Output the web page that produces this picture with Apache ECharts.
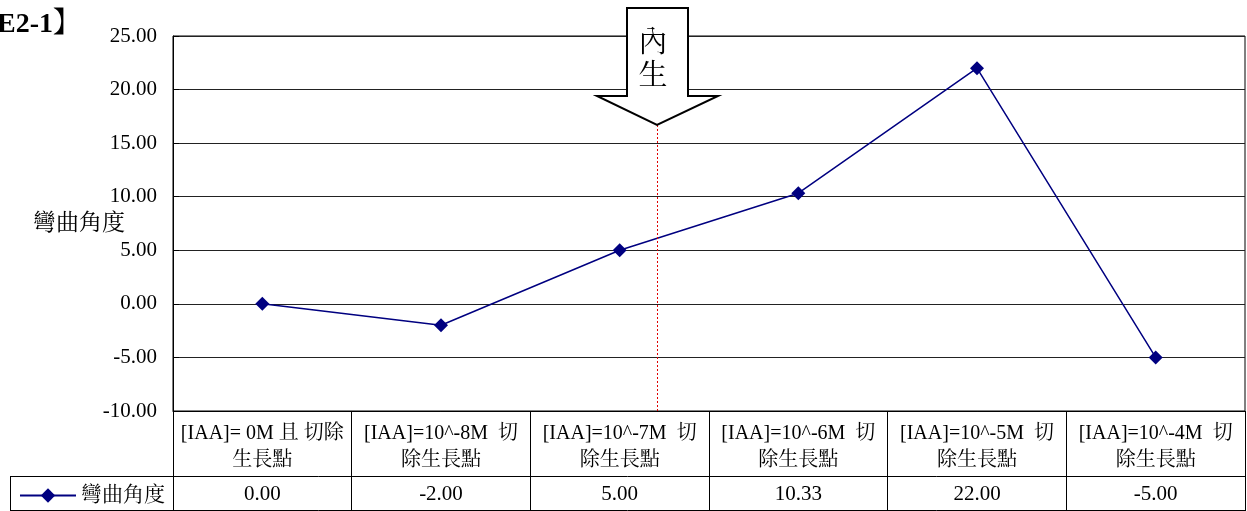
<!doctype html>
<html lang="zh-Hant">
<head>
<meta charset="UTF-8">
<title>彎曲角度</title>
<script src="https://cdn.jsdelivr.net/npm/echarts@6/dist/echarts.min.js"></script>
<style>
  html, body { margin: 0; padding: 0; background: #fff; }
  #main { width: 1247px; height: 511px; }
</style>
</head>
<body>
<div id="main"></div>
<script>
var seriesName = '彎曲角度';
var categories = [
    '[IAA]= 0M 且 切除\n生長點',
    '[IAA]=10^-8M  切\n除生長點',
    '[IAA]=10^-7M  切\n除生長點',
    '[IAA]=10^-6M  切\n除生長點',
    '[IAA]=10^-5M  切\n除生長點',
    '[IAA]=10^-4M  切\n除生長點'
];
var values = [0.00, -2.00, 5.00, 10.33, 22.00, -5.00];
var tableValues = ['0.00', '-2.00', '5.00', '10.33', '22.00', '-5.00'];

var FONT = "'Liberation Serif', 'Noto Serif CJK TC', 'Noto Sans CJK TC', serif";

var myChart = echarts.init(document.getElementById('main'));

var option = {
    backgroundColor: '#fff',
    animation: false,
    textStyle: { fontFamily: FONT },
    grid: {
        left: 173, right: 2, top: 36, bottom: 100,
        show: true, borderColor: '#000', borderWidth: 1
    },
    legend: {
        left: 14, top: 480,
        itemWidth: 56, itemHeight: 18, itemGap: 4,
        textStyle: { fontFamily: FONT, fontSize: 21, color: '#000' },
        data: [seriesName]
    },
    xAxis: [{
        type: 'category',
        data: categories,
        position: 'bottom',
        axisLine: { onZero: false, lineStyle: { color: '#000' } },
        axisTick: { show: true, length: 100, lineStyle: { color: '#000' } },
        axisLabel: {
            interval: 0, margin: 9, lineHeight: 27,
            fontFamily: FONT, fontSize: 20, color: '#000'
        }
    }, {
        type: 'category',
        data: tableValues,
        position: 'bottom',
        offset: 65,
        axisLine: { show: false, onZero: false },
        axisTick: { show: false },
        axisLabel: {
            interval: 0, margin: 8,
            fontFamily: FONT, fontSize: 21, color: '#000'
        }
    }],
    yAxis: {
        type: 'value',
        min: -10, max: 25, interval: 5,
        name: seriesName,
        nameLocation: 'middle',
        nameRotate: 0,
        nameGap: 48,
        nameMoveOverlap: false,
        nameTextStyle: { fontFamily: FONT, fontSize: 23, color: '#000' },
        axisLine: { show: true, lineStyle: { color: '#000' } },
        axisTick: { show: true, inside: true, length: 6, lineStyle: { color: '#000' } },
        axisLabel: {
            margin: 16, fontFamily: FONT, fontSize: 21, color: '#000',
            formatter: function (v) { return v.toFixed(2); }
        },
        splitLine: { show: true, lineStyle: { color: '#222', width: 1 } }
    },
    graphic: [
        // table horizontal lines + legend cell
        { type: 'line', shape: { x1: 10, y1: 476.5, x2: 1245, y2: 476.5 }, style: { stroke: '#000', lineWidth: 1 } },
        { type: 'line', shape: { x1: 10, y1: 510.5, x2: 1245, y2: 510.5 }, style: { stroke: '#000', lineWidth: 1 } },
        { type: 'line', shape: { x1: 10.5, y1: 476, x2: 10.5, y2: 511 }, style: { stroke: '#000', lineWidth: 1 } },
        // figure label (cut off at left)
        {
            type: 'text', left: -59, top: 11,
            style: { text: '【圖E2-1】', font: "bold 28px " + FONT, fill: '#000' }
        },
        // red dotted line
        {
            type: 'line', z: 5,
            shape: { x1: 657.5, y1: 125, x2: 657.5, y2: 411 },
            style: { stroke: '#e00000', lineWidth: 1, lineDash: [2, 2] }
        },
        // arrow
        {
            type: 'polygon', z: 10,
            shape: { points: [[627, 8], [688, 8], [688, 96], [718, 96], [657, 125], [597, 96], [627, 96]] },
            style: { fill: '#fff', stroke: '#000', lineWidth: 2 }
        },
        {
            type: 'text', z: 11, x: 653, y: 28,
            style: { text: '內\n生', font: "29px " + FONT, lineHeight: 33, textAlign: 'center', fill: '#000' }
        }
    ],
    series: [{
        name: seriesName,
        type: 'line',
        data: values,
        symbol: 'diamond',
        symbolSize: 14,
        color: '#000080',
        lineStyle: { color: '#000080', width: 1.5 },
        itemStyle: { color: '#000080' }
    }]
};

myChart.setOption(option);
</script>
</body>
</html>
